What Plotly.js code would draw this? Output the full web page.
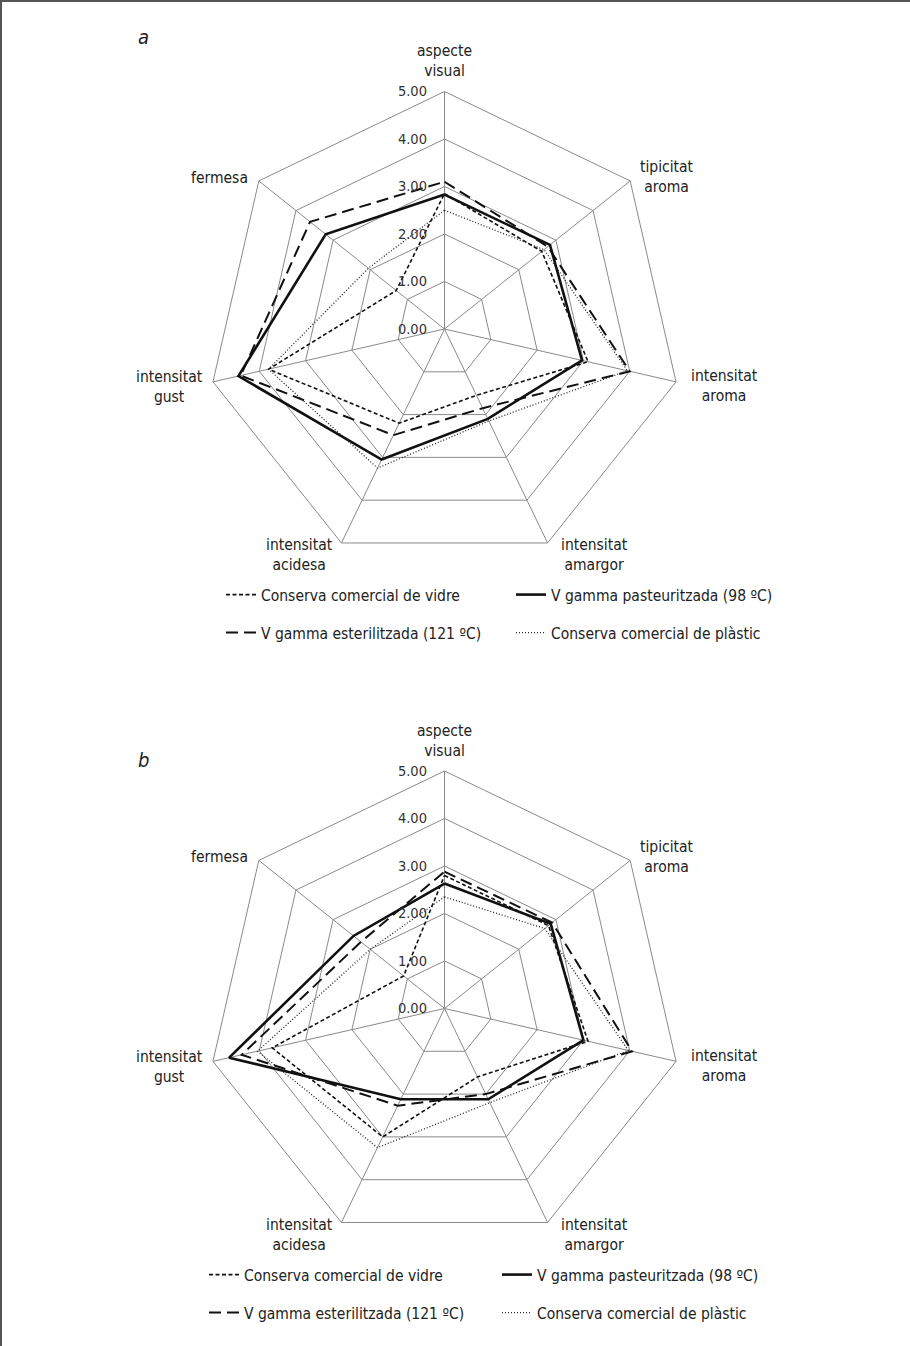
<!DOCTYPE html>
<html>
<head>
<meta charset="utf-8">
<script src="https://cdn.plot.ly/plotly-3.0.1.min.js"></script>
<style>
  html, body { margin: 0; padding: 0; background: #ffffff; }
  #chart { width: 910px; height: 1346px; }
</style>
</head>
<body>
<div id="chart"></div>
<script>
// ---- Data ----
const categories = [
  'aspecte<br>visual',
  'tipicitat<br>aroma',
  'intensitat<br>aroma',
  'intensitat<br>amargor',
  'intensitat<br>acidesa',
  'intensitat<br>gust',
  'fermesa'
];
const seriesNames = [
  'Conserva comercial de vidre',
  'V gamma pasteuritzada (98 ºC)',
  'V gamma esterilitzada (121 ºC)',
  'Conserva comercial de plàstic'
];
const radialTickVals = [0, 1, 2, 3, 4, 5];
const radialTickText = ['0.00', '1.00', '2.00', '3.00', '4.00', '5.00'];
const panelLabels = ['a', 'b'];

// Chart a
const aVidre   = [2.85, 2.62, 3.10, 1.55, 2.20, 3.80, 1.30];
const aPasteur = [2.83, 2.84, 2.97, 2.10, 3.05, 4.45, 3.20];
const aEsteril = [3.10, 2.78, 4.00, 1.85, 2.48, 4.40, 3.62];
const aPlastic = [2.50, 2.68, 3.95, 2.15, 3.25, 3.80, 2.05];
// Chart b
const bVidre   = [2.80, 2.80, 3.10, 1.60, 3.00, 3.72, 1.10];
const bPasteur = [2.63, 2.86, 3.00, 2.12, 2.12, 4.65, 2.45];
const bEsteril = [2.88, 2.90, 4.05, 2.00, 2.27, 4.38, 2.25];
const bPlastic = [2.35, 2.70, 3.97, 2.20, 3.25, 4.04, 2.00];

// ---- Styles / layout helpers ----
const FONT = '"DejaVu Sans Condensed", "DejaVu Sans", sans-serif';
const lineStyles = [
  {color: '#111111', width: 1.6, dash: '4px,2.5px'},
  {color: '#111111', width: 2.6, dash: 'solid'},
  {color: '#111111', width: 2.0, dash: '12px,6px'},
  {color: '#222222', width: 1.3, dash: '1px,2px'}
];
const W = 910, H = 1346;
function px(x) { return x / W; }
function py(y) { return 1 - y / H; }

// chart centres (pixels) and radius of the 5.00 ring
const centres = [[444.5, 329], [444.5, 1008.5]];
const R = 237.5;
// category label placement relative to the centre: [dx, dy, xanchor]
const labelPlacement = [
  [0, -268, 'center'],
  [193, -152, 'left'],
  [244, 57, 'left'],
  [114, 226, 'left'],
  [-110, 226, 'right'],
  [-240, 58, 'right'],
  [-195, -151, 'right']
];

function closeLoop(arr) { return arr.concat([arr[0]]); }

const chartData = [
  [aVidre, aPasteur, aEsteril, aPlastic],
  [bVidre, bPasteur, bEsteril, bPlastic]
];

const traces = [];
chartData.forEach(function (set, ci) {
  set.forEach(function (vals, si) {
    const idx = ci * 4 + si;
    traces.push({
      type: 'scatterpolar',
      mode: 'lines',
      name: seriesNames[si],
      r: closeLoop(vals),
      theta: closeLoop(categories),
      subplot: ci === 0 ? 'polar' : 'polar2',
      legend: idx === 0 ? 'legend' : 'legend' + (idx + 1),
      line: lineStyles[si],
      hoverinfo: 'skip'
    });
  });
});

function polarCfg(c) {
  return {
    domain: {x: [px(c[0] - R), px(c[0] + R)], y: [py(c[1] + R), py(c[1] - R)]},
    bgcolor: 'rgba(0,0,0,0)',
    gridshape: 'linear',
    radialaxis: {
      range: [0, 5],
      angle: 90,
      side: 'counterclockwise',
      tickangle: 90,
      tickvals: radialTickVals,
      ticktext: radialTickText,
      showline: false,
      ticks: 'outside',
      ticklen: 12,
      tickcolor: 'rgba(0,0,0,0)',
      gridcolor: '#8a8a8a',
      gridwidth: 1,
      tickfont: {family: FONT, size: 14.5, color: '#333333'},
      layer: 'above traces'
    },
    angularaxis: {
      type: 'category',
      categoryarray: categories,
      rotation: 90,
      direction: 'clockwise',
      showline: true,
      linecolor: '#8a8a8a',
      linewidth: 1,
      gridcolor: '#8a8a8a',
      gridwidth: 1,
      ticks: '',
      showticklabels: false,
      layer: 'below traces'
    }
  };
}

// legend positions (pixel): [legend left x, row centre y]
const legendPos = [
  [[221, 595], [511, 595], [221, 633], [511, 633]],
  [[204, 1275], [497, 1275], [204, 1313], [497, 1313]]
];
const panelLabelPos = [[143, 37], [143, 760]];

const annotations = [];
centres.forEach(function (c, ci) {
  categories.forEach(function (cat, k) {
    const p = labelPlacement[k];
    annotations.push({
      xref: 'paper', yref: 'paper',
      x: px(c[0] + p[0]), y: py(c[1] + p[1]),
      xanchor: p[2], yanchor: 'middle', align: 'center',
      text: cat, showarrow: false,
      font: {family: FONT, size: 15.5, color: '#222222'}
    });
  });
  annotations.push({
    xref: 'paper', yref: 'paper',
    x: px(panelLabelPos[ci][0]), y: py(panelLabelPos[ci][1]),
    xanchor: 'center', yanchor: 'middle',
    text: panelLabels[ci], showarrow: false,
    font: {family: FONT, size: 20, color: '#222222', style: 'italic'}
  });
});

const layout = {
  width: W, height: H,
  margin: {l: 0, r: 0, t: 0, b: 0},
  paper_bgcolor: '#ffffff',
  plot_bgcolor: '#ffffff',
  font: {family: FONT, size: 15.5, color: '#222222'},
  showlegend: true,
  polar: polarCfg(centres[0]),
  polar2: polarCfg(centres[1]),
  shapes: [
    {type: 'line', xref: 'paper', yref: 'paper', x0: 0, x1: 1, y0: py(1), y1: py(1),
     line: {color: '#555555', width: 2}},
    {type: 'line', xref: 'paper', yref: 'paper', x0: px(1), x1: px(1), y0: 0, y1: 1,
     line: {color: '#555555', width: 2}}
  ],
  annotations: annotations
};

legendPos.forEach(function (rows, ci) {
  rows.forEach(function (p, si) {
    const idx = ci * 4 + si;
    const key = idx === 0 ? 'legend' : 'legend' + (idx + 1);
    layout[key] = {
      x: px(p[0]), y: py(p[1]),
      xanchor: 'left', yanchor: 'middle',
      bgcolor: 'rgba(0,0,0,0)',
      borderwidth: 0,
      itemwidth: 30,
      font: {family: FONT, size: 15.5, color: '#222222'}
    };
  });
});

Plotly.newPlot('chart', traces, layout, {staticPlot: true, displayModeBar: false});
</script>
</body>
</html>
